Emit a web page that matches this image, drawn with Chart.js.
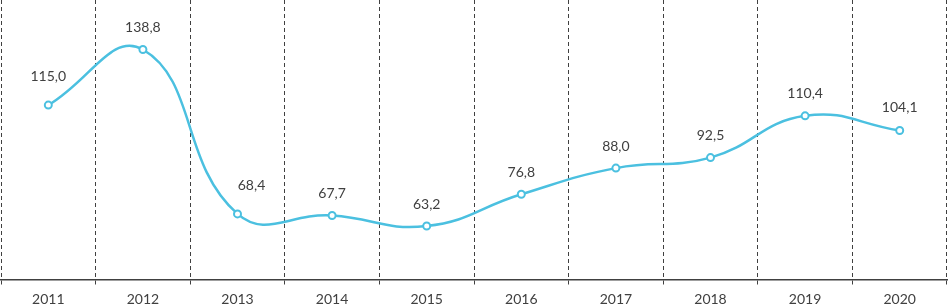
<!DOCTYPE html>
<html>
<head>
<meta charset="utf-8">
<script src="https://cdn.jsdelivr.net/npm/chart.js@4"></script>
<style>
  html, body { margin: 0; padding: 0; background: #fff; }
  #wrap { width: 948px; height: 306px; }
</style>
</head>
<body>
<div id="wrap"><canvas id="myChart"></canvas></div>
<script>
const years = ['2011', '2012', '2013', '2014', '2015', '2016', '2017', '2018', '2019', '2020'];
const values = [115.0, 138.8, 68.4, 67.7, 63.2, 76.8, 88.0, 92.5, 110.4, 104.1];

// how far each value label sits above / beside its point
const labelLift = [29, 22, 28, 22, 22, 22, 22, 22, 22, 23];
const labelShift = [0, 0, 14, 0, 0, 0, 0, 0, 0, 0];

const textColor = '#404040';
const fontFamily = 'Lato, "Open Sans", sans-serif';

const valueLabels = {
    id: 'valueLabels',
    afterDatasetsDraw(chart) {
        const ctx = chart.ctx;
        const meta = chart.getDatasetMeta(0);
        ctx.save();
        ctx.font = '14px ' + fontFamily;
        ctx.fillStyle = textColor;
        ctx.textAlign = 'center';
        ctx.textBaseline = 'middle';
        meta.data.forEach((pt, i) => {
            const txt = values[i].toFixed(1).replace('.', ',');
            ctx.fillText(txt, pt.x + labelShift[i], pt.y - labelLift[i]);
        });
        ctx.restore();
    }
};

const ctx = document.getElementById('myChart').getContext('2d');
const myChart = new Chart(ctx, {
    type: 'line',
    data: {
        labels: years,
        datasets: [{
            data: values,
            borderColor: '#4BC0E0',
            borderWidth: 2.5,
            tension: 0.45,
            pointRadius: 3.5,
            pointBorderWidth: 2,
            pointBackgroundColor: '#ffffff',
            pointBorderColor: '#4BC0E0',
            fill: false
        }]
    },
    options: {
        responsive: true,
        maintainAspectRatio: false,
        animation: false,
        layout: { autoPadding: false, padding: { left: 1, right: 1, top: 0, bottom: -8 } },
        plugins: {
            legend: { display: false },
            tooltip: { enabled: false }
        },
        scales: {
            x: {
                offset: true,
                grid: {
                    offset: true,
                    color: '#404040',
                    lineWidth: 1,
                    tickLength: 5,
                    drawTicks: true,
                    tickBorderDash: [4, 3]
                },
                border: { display: true, color: '#404040', width: 1.5, dash: [4, 3] },
                ticks: {
                    color: textColor,
                    font: { family: fontFamily, size: 14 },
                    padding: 6,
                    maxRotation: 0
                }
            },
            y: {
                display: false,
                min: 40,
                max: 160
            }
        }
    },
    plugins: [valueLabels]
});
</script>
</body>
</html>
